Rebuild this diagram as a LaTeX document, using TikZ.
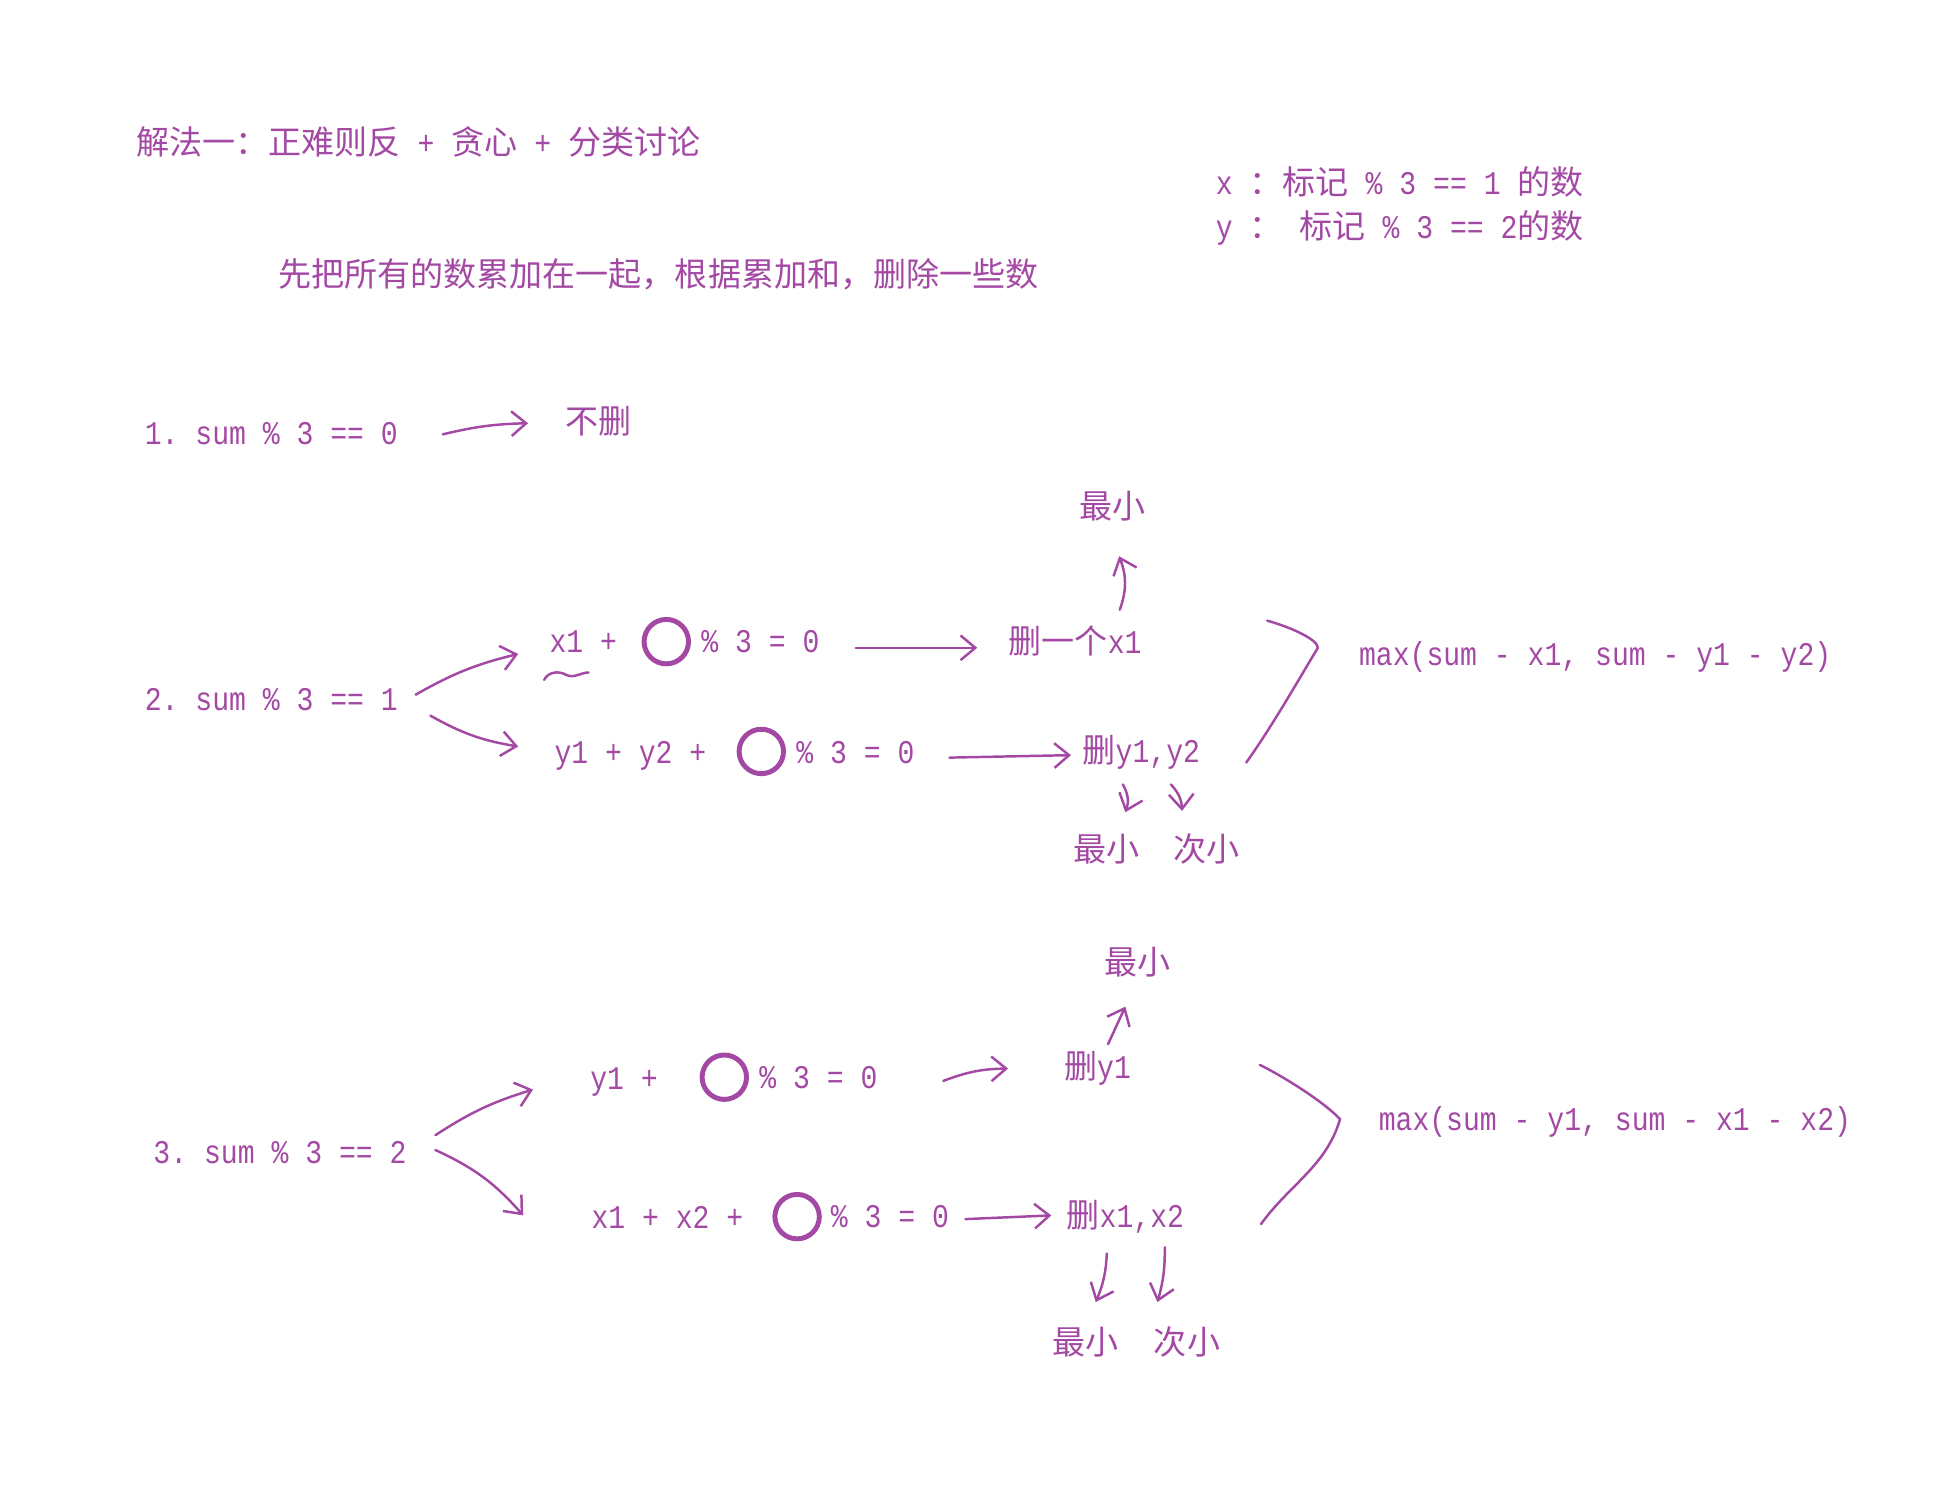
\documentclass[tikz,border=0pt]{standalone}
\usepackage{fontspec}
\setmainfont{Liberation Mono}[FakeStretch=0.85]
\newfontfamily\cjk{Noto Sans CJK SC}
\usetikzlibrary{arrows.meta,calc}
\definecolor{inkpurple}{RGB}{163,73,164}

\begin{document}
\frenchspacing
\begin{tikzpicture}[x=0.5pt,y=-0.5pt,
txt/.style={anchor=west,inner sep=0pt,text=inkpurple,text height=10.7pt,text depth=2.7pt,
font=\fontsize{13.4}{16}\selectfont},
lbl/.style={txt,anchor=center},
ring/.style={circle,draw=inkpurple,line width=2pt,minimum size=18pt,inner sep=0pt},
hand/.style={draw=inkpurple,line width=1pt,line cap=round,-{Straight Barb[length=6pt,width=10pt]}},
brace/.style={draw=inkpurple,line width=1pt,line cap=round}]

\useasboundingbox (0,0) rectangle (1569,1219);

\node[txt] (t) at (110,117) {{\cjk 解法一：正难则反} + {\cjk 贪心} + {\cjk 分类讨论}};
\node[txt] (intro) at (225,224) {{\cjk 先把所有的数累加在一起，根据累加和，删除一些数}};
\node[txt] (xd) at (985,150) {x {\cjk ：标记} \% 3 == 1 {\cjk 的数}};
\node[txt] (yd) at (985,185) {y {\cjk ：} {\cjk 标记} \% 3 == 2{\cjk 的数}};

\node[txt] (c1) at (117,352) {1. sum \% 3 == 0};
\node[txt] (keep) at (458,343) {{\cjk 不删}};

\node[txt] (c2) at (117,568) {2. sum \% 3 == 1};
\node[txt] (c2a) at (445,521) {x1 +};
\node[ring] (r2a) at (540,520) {};
\node[txt] (m2a) at (568,521) {\% 3 = 0};
\node[txt] (d2a) at (817,522) {{\cjk 删一个}x1};
\node[lbl] (n2a) at (902,412) {{\cjk 最小}};
\node[txt] (c2b) at (449,611) {y1 + y2 +};
\node[ring] (r2b) at (617,609) {};
\node[txt] (m2b) at (645,611) {\% 3 = 0};
\node[txt] (d2b) at (877,610) {{\cjk 删}y1,y2};
\node[lbl] (n2b) at (897,690) {{\cjk 最小}};
\node[lbl] (s2b) at (978,690) {{\cjk 次小}};
\node[txt] (res2) at (1101,531) {max(sum - x1, sum - y1 - y2)};

\node[txt] (c3) at (124,935) {3. sum \% 3 == 2};
\node[txt] (c3a) at (478,875) {y1 +};
\node[ring] (r3a) at (587,873) {};
\node[txt] (m3a) at (615,874) {\% 3 = 0};
\node[txt] (d3a) at (862,866) {{\cjk 删}y1};
\node[lbl] (n3a) at (922,782) {{\cjk 最小}};
\node[txt] (c3b) at (479,988) {x1 + x2 +};
\node[ring] (r3b) at (646,986) {};
\node[txt] (m3b) at (673,987) {\% 3 = 0};
\node[txt] (d3b) at (864,987) {{\cjk 删}x1,x2};
\node[lbl] (n3b) at (880,1090) {{\cjk 最小}};
\node[lbl] (s3b) at (962,1090) {{\cjk 次小}};
\node[txt] (res3) at (1117,908) {max(sum - y1, sum - x1 - x2)};

\draw[hand] ($(c1.east)+(36,0)$) to[bend left=6] ($(keep.west)+(-30,0)$);

\draw[hand] ($(c2.east)+(14,-5)$) to[bend left=8] ($(c2a.west)+(-25,9)$);
\draw[hand] ($(c2.east)+(26,12)$) to[bend right=10] ($(c2b.west)+(-29,-6)$);
\draw[hand] ($(m2a.east)+(29,4)$) -- ($(d2a.west)+(-25,3)$);
\draw[hand] ($(m2b.east)+(28,3)$) -- ($(d2b.west)+(-9,2)$);
\draw[hand] ($(d2a.north east)+(-18,-14)$) to[bend right=20] ($(n2a.south)+(5,25)$);
\draw[hand] ($(d2b.south west)+(33,12)$) to[bend left=25] ($(n2b.north)+(15,-18)$);
\draw[hand] ($(d2b.south west)+(72,12)$) to[bend left=20] ($(s2b.north)+(-20,-19)$);
\draw[brace] (441,551) .. controls (444,545) and (452,543) .. (459,547)
  .. controls (465,550) and (471,545) .. (477,545);
\draw[brace] (1027,503) .. controls (1045,508) and (1068,518) .. (1068,525)
  .. controls (1050,555) and (1030,590) .. (1010,618);

\draw[hand] ($(c3.east)+(23,-15)$) to[bend left=8] ($(c3a.west)+(-46,8)$);
\draw[hand] ($(c3.east)+(23,-3)$) to[bend left=12] ($(c3b.west)+(-55,-3)$);
\draw[hand] ($(m3a.east)+(53,2)$) to[bend left=10] ($(d3a.west)+(-45,0)$);
\draw[hand] ($(m3b.east)+(13,1)$) -- ($(d3b.west)+(-12,-2)$);
\draw[hand] ($(d3a.north west)+(36,-6)$) -- ($(n3a.south)+(-10,20)$);
\draw[hand] ($(d3b.south west)+(33,15)$) to[bend left=10] ($(n3b.north)+(8,-21)$);
\draw[hand] ($(d3b.south west)+(80,10)$) to[bend left=8] ($(s3b.north)+(-24,-21)$);
\draw[brace] (1021,863) .. controls (1045,875) and (1075,895) .. (1086,907)
  .. controls (1075,945) and (1045,960) .. (1022,992);
\end{tikzpicture}
\end{document}
